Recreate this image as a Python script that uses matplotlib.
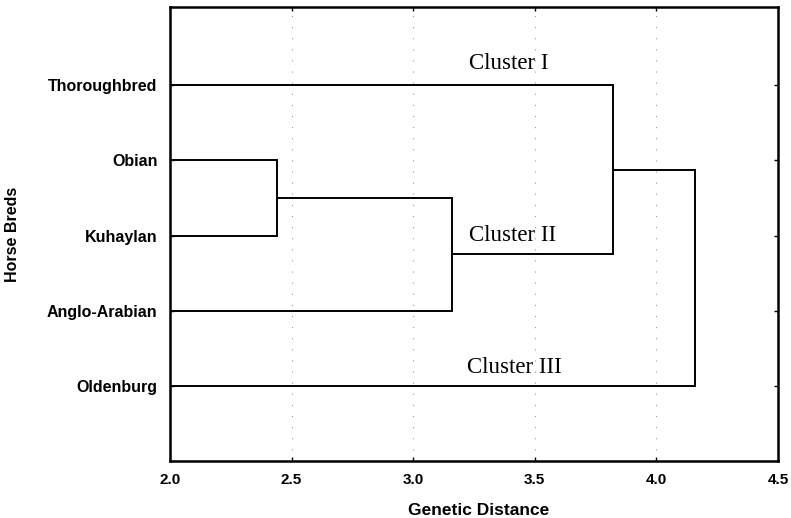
import numpy as np
import matplotlib.pyplot as plt

# leaves, top to bottom
breeds = ["Thoroughbred", "Obian", "Kuhaylan", "Anglo-Arabian", "Oldenburg"]
# linkage: (child a, child b, distance); ids >= 5 are earlier merges
merges = [(1, 2, 2.44), (5, 3, 3.16), (0, 6, 3.82), (7, 4, 4.16)]
cluster_names = ["Cluster I", "Cluster II", "Cluster III"]
cluster_x = [3.23, 3.23, 3.22]
cluster_y = [-0.29, 2.0, 3.76]
xticks = [2.0, 2.5, 3.0, 3.5, 4.0, 4.5]

fig = plt.figure(figsize=(7.91, 5.18), dpi=100)
ax = fig.add_axes([170 / 791, 57 / 518, 608 / 791, 454 / 518])

# node positions: (x, y)
pos = {i: (xticks[0], i) for i in range(len(breeds))}
for k, (a, b, h) in enumerate(merges):
    xa, ya = pos[a]
    xb, yb = pos[b]
    ax.plot([xa, h, h, xb], [ya, ya, yb, yb], color="black", lw=1.4,
            solid_joinstyle="miter")
    pos[len(breeds) + k] = (h, (ya + yb) / 2)

for x in xticks[1:-1]:
    ax.axvline(x, color="#999999", lw=0.8, ls=(0, (1, 9)), zorder=0)

for name, x, y in zip(cluster_names, cluster_x, cluster_y):
    ax.text(x, y, name, ha="left", va="center", fontsize=16.5,
            family="Liberation Serif")

ax.set_xlim(2.0, 4.5)
ax.set_ylim(5.0, -1.04)
ax.set_xticks(xticks)
ax.set_xticklabels([f"{t:.1f}" for t in xticks], fontsize=11,
                   fontweight="bold", family="Liberation Sans")
ax.set_yticks(range(len(breeds)))
ax.set_yticklabels(breeds, fontsize=11.5, fontweight="bold",
                   family="Liberation Sans")
ax.tick_params(axis="x", direction="in", length=3, width=1, pad=9,
               top=True)
ax.tick_params(axis="y", direction="in", length=3, width=1, pad=9,
               right=True)
for s in ax.spines.values():
    s.set_linewidth(1.8)

ax.set_xlabel("Genetic Distance", fontsize=12.5, fontweight="bold",
              family="Liberation Sans")
ax.set_ylabel("Horse Breds", fontsize=11.5, fontweight="bold",
              family="Liberation Sans")
ax.xaxis.set_label_coords(0.507, -0.093)
ax.yaxis.set_label_coords(-0.246, 0.5)

fig.savefig("out.png", dpi=100)
